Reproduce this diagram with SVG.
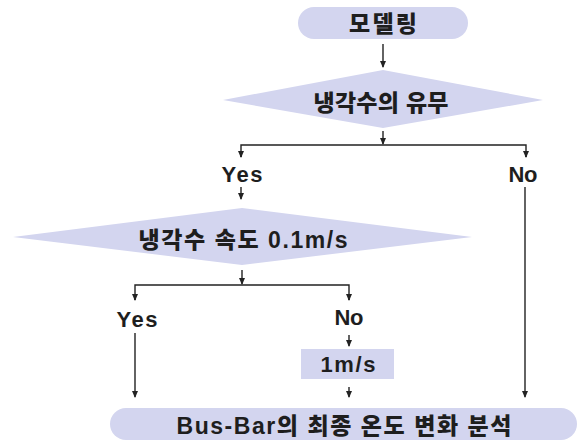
<svg xmlns="http://www.w3.org/2000/svg" width="584" height="442" viewBox="0 0 584 442">
<style>
.shape{fill:#d3d5ef;stroke:none}
.t{font-family:"Liberation Sans","Noto Sans CJK KR",sans-serif;font-weight:900;font-size:22px;fill:#1e1e1e;text-anchor:middle}
.k{font-size:23px}
.c{fill:none;stroke:#222;stroke-width:1.4}
</style>
<defs>
<marker id="ah" viewBox="0 0 8 8" refX="7" refY="4" markerWidth="7" markerHeight="7" orient="auto" markerUnits="userSpaceOnUse">
<path d="M0,0.5 L8,4 L0,7.5 Z" fill="#222"/>
</marker>
</defs>
<rect width="584" height="442" fill="#fff"/>
<g id="connectors">
<line class="c" x1="383" y1="44" x2="383" y2="67" marker-end="url(#ah)"/>
<line class="c" x1="383" y1="131" x2="383" y2="144" marker-end="url(#ah)"/>
<polyline class="c" points="241,157 241,145 526,145 526,157"/>
<line class="c" x1="241" y1="151" x2="241" y2="157" marker-end="url(#ah)"/>
<line class="c" x1="526" y1="151" x2="526" y2="157" marker-end="url(#ah)"/>
<line class="c" x1="241" y1="187" x2="241" y2="199" marker-end="url(#ah)"/>
<line class="c" x1="242" y1="270" x2="242" y2="284" marker-end="url(#ah)"/>
<polyline class="c" points="135,300 135,285 349,285 349,300"/>
<line class="c" x1="135" y1="294" x2="135" y2="300" marker-end="url(#ah)"/>
<line class="c" x1="349" y1="294" x2="349" y2="300" marker-end="url(#ah)"/>
<line class="c" x1="135" y1="333" x2="135" y2="397" marker-end="url(#ah)"/>
<line class="c" x1="349" y1="335" x2="349" y2="346" marker-end="url(#ah)"/>
<line class="c" x1="349" y1="387" x2="349" y2="397" marker-end="url(#ah)"/>
<line class="c" x1="525" y1="187" x2="525" y2="397" marker-end="url(#ah)"/>
</g>
<g id="start">
<rect class="shape" x="298" y="7" width="170" height="32" rx="16"/>
<text class="t k" x="383" y="32" textLength="68" lengthAdjust="spacing">모델링</text>
</g>
<g id="decision1">
<polygon class="shape" points="223,100 383,70 543,100 383,128"/>
<text class="t k" x="381" y="111" textLength="135" lengthAdjust="spacing">냉각수의 유무</text>
</g>
<g id="yes1">
<text class="t" x="242" y="182" textLength="41" lengthAdjust="spacing">Yes</text>
</g>
<g id="no1">
<text class="t" x="523" y="182" textLength="29" lengthAdjust="spacing">No</text>
</g>
<g id="decision2">
<polygon class="shape" points="13,237 242,208 472,237 242,265"/>
<text class="t k" x="243" y="248" textLength="209" lengthAdjust="spacing">냉각수 속도 0.1m/s</text>
</g>
<g id="yes2">
<text class="t" x="137" y="327" textLength="41" lengthAdjust="spacing">Yes</text>
</g>
<g id="no2">
<text class="t" x="349" y="325" textLength="29" lengthAdjust="spacing">No</text>
</g>
<g id="speed">
<rect class="shape" x="301" y="349" width="93" height="30"/>
<text class="t" x="348" y="372" textLength="55" lengthAdjust="spacing">1m/s</text>
</g>
<g id="end">
<rect class="shape" x="110" y="408" width="467" height="32" rx="16"/>
<text class="t k" x="344" y="434" textLength="335" lengthAdjust="spacing">Bus-Bar의 최종 온도 변화 분석</text>
</g>
</svg>
